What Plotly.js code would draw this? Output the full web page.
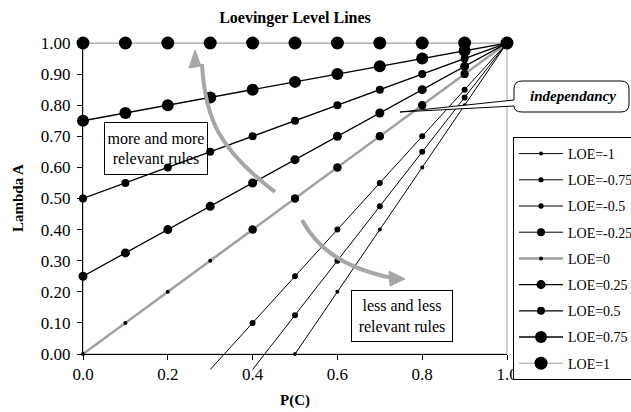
<!DOCTYPE html>
<html><head><meta charset="utf-8">
<script src="https://cdn.plot.ly/plotly-3.0.1.min.js"></script>
<style>html,body{margin:0;padding:0;background:#fff}#chart{width:631px;height:412px}</style>
</head><body><div id="chart"></div>
<script>
// ---- data ----
const pcFull   = [0, 0.1, 0.2, 0.3, 0.4, 0.5, 0.6, 0.7, 0.8, 0.9, 1.0];
const lamP1    = [1, 1, 1, 1, 1, 1, 1, 1, 1, 1, 1];
const lamP075  = [0.75, 0.775, 0.8, 0.825, 0.85, 0.875, 0.9, 0.925, 0.95, 0.975, 1];
const lamP05   = [0.5, 0.55, 0.6, 0.65, 0.7, 0.75, 0.8, 0.85, 0.9, 0.95, 1];
const lamP025  = [0.25, 0.325, 0.4, 0.475, 0.55, 0.625, 0.7, 0.775, 0.85, 0.925, 1];
const lam0     = [0, 0.1, 0.2, 0.3, 0.4, 0.5, 0.6, 0.7, 0.8, 0.9, 1];
const pcM025   = [0.4, 0.5, 0.6, 0.7, 0.8, 0.9, 1.0];
const lamM025  = [0.4, 0.5, 0.6, 0.7, 0.8, 0.9, 1.0];
const pcM05    = [0.3, 0.4, 0.5, 0.6, 0.7, 0.8, 0.9, 1.0];
const lamM05   = [-0.05, 0.1, 0.25, 0.4, 0.55, 0.7, 0.85, 1.0];
const pcM075   = [0.4, 0.5, 0.6, 0.7, 0.8, 0.9, 1.0];
const lamM075  = [-0.05, 0.125, 0.3, 0.475, 0.65, 0.825, 1.0];
const pcM1     = [0.5, 0.6, 0.7, 0.8, 0.9, 1.0];
const lamM1    = [0, 0.2, 0.4, 0.6, 0.8, 1.0];
const xTickVals = [0, 0.2, 0.4, 0.6, 0.8, 1.0];
const xTickText = ['0.0', '0.2', '0.4', '0.6', '0.8', '1.0'];
const yTickVals = [0, 0.1, 0.2, 0.3, 0.4, 0.5, 0.6, 0.7, 0.8, 0.9, 1.0];

// ---- geometry ----
const W = 631, H = 412, ML = 83, MR = 124, MT = 43, MB = 35;
const plotW = W - ML - MR, plotH = H - MT - MB;
const pxPerUnitY = 311;
const yMin = 1 - plotH / pxPerUnitY;
const yDomLow = (0 - yMin) / (1 - yMin);
const PX = px => (px - ML) / plotW;
const PY = py => (H - MB - py) / plotH;
const FONT = 'Liberation Serif, Times New Roman, serif';
const GRAY = '#a0a0a0';

const styles = {
  'LOE=-1':    {lc:'#000', lw:1,   ms:4},
  'LOE=-0.75': {lc:'#000', lw:1,   ms:6},
  'LOE=-0.5':  {lc:'#000', lw:1,   ms:6},
  'LOE=-0.25': {lc:'#000', lw:1,   ms:8},
  'LOE=0':     {lc:GRAY,   lw:2.5, ms:4},
  'LOE=0.25':  {lc:'#000', lw:1.3, ms:9},
  'LOE=0.5':   {lc:'#000', lw:1.3, ms:8},
  'LOE=0.75':  {lc:'#000', lw:1.3, ms:12},
  'LOE=1':     {lc:GRAY,   lw:1,   ms:13}
};

function tr(name, xs, ys, opts) {
  const st = styles[name];
  const o = opts || {};
  return {
    type:'scatter', mode: o.mode || 'lines+markers', name: name,
    x: xs, y: ys, xaxis:'x2', yaxis:'y2', cliponaxis:false,
    legendgroup: name, showlegend: o.showlegend !== false,
    line:{color: st.lc, width: st.lw},
    marker:{color:'#000', opacity:1, size: ys.map(v => v < 0 ? 0 : st.ms), line:{width:0}},
    hoverinfo:'skip'
  };
}

const traces = [
  {type:'scatter', mode:'markers', x:[], y:[], xaxis:'x', yaxis:'y', showlegend:false, hoverinfo:'skip'},
  tr('LOE=-1', pcM1, lamM1),
  tr('LOE=-0.75', pcM075, lamM075),
  tr('LOE=-0.5', pcM05, lamM05),
  tr('LOE=-0.25', pcM025, lamM025),
  tr('LOE=0', pcFull, lam0),
  tr('LOE=-0.25', pcM025, lamM025, {mode:'markers', showlegend:false}),
  tr('LOE=0.25', pcFull, lamP025),
  tr('LOE=0.5', pcFull, lamP05),
  tr('LOE=0.75', pcFull, lamP075),
  tr('LOE=1', pcFull, lamP1)
];

function pathFrom(pts) {
  return pts.map(p => p[0] + p.slice(1).reduce((acc, v, i, arr) => {
    if (i % 2 === 0) acc.push(PX(v) + ',' + PY(arr[i+1]));
    return acc;
  }, []).join(' ')).join(' ');
}

const shapes = [
  {type:'rect', xref:'x domain', yref:'y domain', x0:0, x1:1, y0:0, y1:1,
   line:{color:GRAY, width:1}, layer:'below'},
  {type:'path', xref:'paper', yref:'paper', layer:'above',
   path: pathFrom([['M',275,192],['C',220,150,205,120,202,64]]),
   line:{color:'#a6a6a6', width:4}},
  {type:'path', xref:'paper', yref:'paper', layer:'above',
   path: pathFrom([['M',195,50],['L',189,68],['L',201,66]]) + ' Z',
   fillcolor:'#a6a6a6', line:{color:'#a6a6a6', width:1}},
  {type:'path', xref:'paper', yref:'paper', layer:'above',
   path: pathFrom([['M',302,220],['C',318,250,345,268,392,278]]),
   line:{color:'#a6a6a6', width:4}},
  {type:'path', xref:'paper', yref:'paper', layer:'above',
   path: pathFrom([['M',405,279],['L',389,271],['L',390,286]]) + ' Z',
   fillcolor:'#a6a6a6', line:{color:'#a6a6a6', width:1}},
  {type:'path', xref:'paper', yref:'paper', layer:'above',
   path: pathFrom([['M',400,112],['L',514,100],['L',514,89],['Q',514,81,522,81],['L',621,81],
                   ['Q',629,81,629,89],['L',629,104],['Q',629,112,621,112],['L',522,112],
                   ['Q',514,112,514,106]]) + ' Z',
   fillcolor:'#fff', line:{color:'#000', width:1}}
];

const annotations = [
  {xref:'paper', yref:'paper', x:PX(156), y:PY(148.5), xanchor:'center', yanchor:'middle', showarrow:false,
   text:'more and more<br>relevant rules', align:'center',
   width:98, height:47, borderpad:2, bordercolor:'#000', borderwidth:1,
   font:{family:FONT, size:16, color:'#000'}},
  {xref:'paper', yref:'paper', x:PX(402), y:PY(316), xanchor:'center', yanchor:'middle', showarrow:false,
   text:'less and less<br>relevant rules', align:'center',
   width:96, height:46, borderpad:2, bordercolor:'#000', borderwidth:1,
   font:{family:FONT, size:16, color:'#000'}},
  {xref:'paper', yref:'paper', x:PX(573), y:PY(96), xanchor:'center', yanchor:'middle', showarrow:false,
   text:'<b><i>independancy</i></b>',
   font:{family:FONT, size:15, color:'#000'}},
  {xref:'paper', yref:'paper', x:PX(18), y:PY(198), xanchor:'center', yanchor:'middle', showarrow:false,
   text:'<b>Lambda A</b>', textangle:-90,
   font:{family:FONT, size:15, color:'#000'}},
  {xref:'paper', yref:'paper', x:PX(295), y:PY(400), xanchor:'center', yanchor:'middle', showarrow:false,
   text:'<b>P(C)</b>',
   font:{family:FONT, size:15, color:'#000'}}
];

const layout = {
  width: W, height: H,
  margin:{l:ML, r:MR, t:MT, b:MB, autoexpand:false},
  paper_bgcolor:'#fff', plot_bgcolor:'rgba(0,0,0,0)',
  font:{family:FONT, color:'#000', size:14},
  title:{text:'<b>Loevinger Level Lines</b>', font:{family:FONT, size:16, color:'#000'},
         xref:'paper', x:0.5, xanchor:'center', yref:'container', y:1 - 17/H, yanchor:'middle'},
  xaxis:{domain:[0,1], range:[0,1], anchor:'y', tickvals:xTickVals, ticktext:xTickText,
         ticks:'outside', ticklen:5, tickcolor:'#000', showline:true, linecolor:'#000', linewidth:1,
         showgrid:false, zeroline:false, tickfont:{family:FONT, size:17, color:'#000'}},
  yaxis:{domain:[yDomLow,1], range:[0,1], anchor:'x', tickvals:yTickVals, tickformat:'.2f',
         ticks:'outside', ticklen:5, tickcolor:'#000', showline:true, linecolor:'#000', linewidth:1,
         showgrid:false, zeroline:false, ticklabelstandoff:3, tickfont:{family:FONT, size:17, color:'#000'}},
  xaxis2:{domain:[0,1], range:[0,1], anchor:'y2', visible:false, fixedrange:true},
  yaxis2:{domain:[0,1], range:[yMin,1], anchor:'x2', visible:false, fixedrange:true},
  legend:{x:PX(513), y:PY(137), xanchor:'left', yanchor:'top', bgcolor:'#fff',
          bordercolor:'#000', borderwidth:1, font:{family:FONT, size:14, color:'#000'},
          traceorder:'grouped', tracegroupgap:5, itemwidth:44},
  shapes: shapes,
  annotations: annotations,
  showlegend:true
};

Plotly.newPlot('chart', traces, layout, {displayModeBar:false, staticPlot:true});
</script>
</body></html>
